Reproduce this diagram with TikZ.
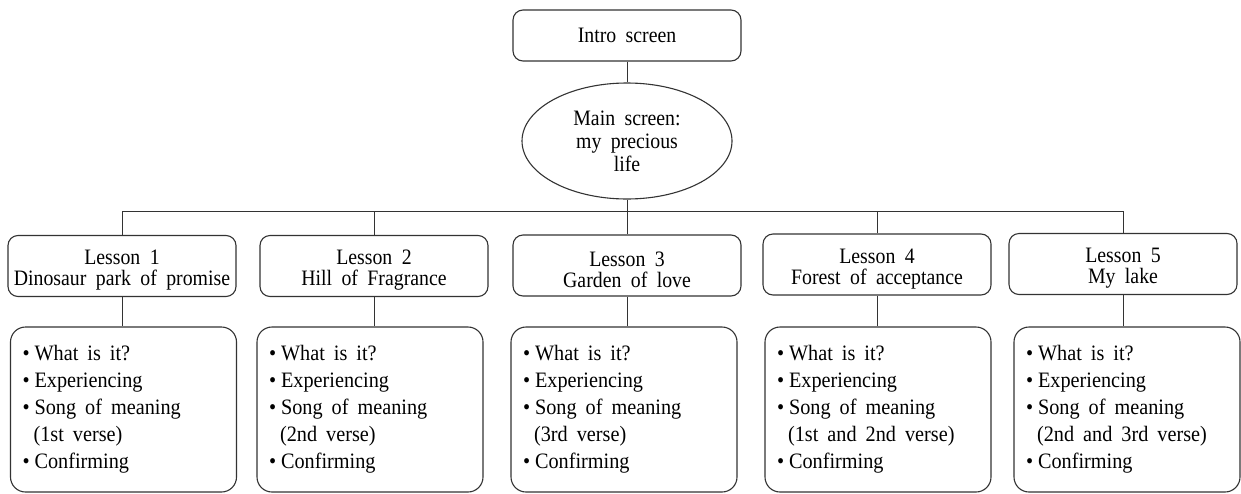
\documentclass[tikz,border=0pt]{standalone}
\usepackage{fontspec}
\setmainfont{Liberation Serif}[FakeStretch=0.9,WordSpace=1.9]
\newfontfamily\listfont{Liberation Serif}[FakeStretch=0.92]
\usetikzlibrary{shapes.geometric}
\newcommand{\itm}{\textbullet\hspace{5pt}}
\newcommand{\cnt}{\hphantom{\textbullet}\hspace{4pt}}
\newcommand{\lsn}{\rule{0pt}{23pt}}
\newcommand{\widesp}{\spaceskip=9pt plus 1pt\relax}
\begin{document}
\begin{tikzpicture}[x=1pt,y=-1pt,
  every node/.style={inner sep=0pt},
  line/.style={draw=black!80,line width=1pt},
  topbox/.style={draw=black!80,line width=1.1pt,rounded corners=10pt,minimum width=228pt,minimum height=51pt,align=center,font=\fontsize{22}{22.5}\selectfont},
  oval/.style={draw=black!80,line width=1.1pt,ellipse,minimum width=210pt,minimum height=116pt,align=center,font=\fontsize{22}{23}\selectfont},
  lessonbox/.style={draw=black!80,line width=1.1pt,rounded corners=10pt,minimum width=228pt,minimum height=61pt,align=center,font=\fontsize{22}{21}\selectfont},
  listbox/.style={draw=black!80,line width=1.1pt,rounded corners=15pt,minimum width=226pt,minimum height=165pt,text width=202pt,align=left,font=\listfont\fontsize{22}{27}\selectfont,execute at begin node={\widesp}}]
\useasboundingbox (0,0) rectangle (1241,493);
\node[topbox] (intro) at (627,35.5) {Intro screen};
\node[oval] (main) at (627,141) {Main screen:\\my precious\\life};
\coordinate (bus) at (627,211);
\node[lessonbox] (L1) at (122,266) {\lsn Lesson 1\\Dinosaur park of promise};
\node[lessonbox] (L2) at (374,266) {\lsn Lesson 2\\Hill of Fragrance};
\node[lessonbox] (L3) at (627,265.5) {\lsn Lesson 3\\Garden of love};
\node[lessonbox] (L4) at (877,264.5) {\lsn Lesson 4\\Forest of acceptance};
\node[lessonbox] (L5) at (1123,264) {\lsn Lesson 5\\My lake};
\node[listbox] (B1) at (123.5,409.5) {\itm What is it?\\\itm Experiencing\\\itm Song of meaning\\\cnt(1st verse)\\\itm Confirming};
\node[listbox] (B2) at (370,409.5) {\itm What is it?\\\itm Experiencing\\\itm Song of meaning\\\cnt(2nd verse)\\\itm Confirming};
\node[listbox] (B3) at (624,409.5) {\itm What is it?\\\itm Experiencing\\\itm Song of meaning\\\cnt(3rd verse)\\\itm Confirming};
\node[listbox] (B4) at (878,409.5) {\itm What is it?\\\itm Experiencing\\\itm Song of meaning\\\cnt(1st and 2nd verse)\\\itm Confirming};
\node[listbox] (B5) at (1127,409.5) {\itm What is it?\\\itm Experiencing\\\itm Song of meaning\\\cnt(2nd and 3rd verse)\\\itm Confirming};
\draw[line] (intro.south) -- (main.north);
\draw[line] (main.south) -- (bus);
\draw[line] (L1.north |- bus) -- (L5.north |- bus);
\foreach \k in {1,...,5}{
  \draw[line] (L\k.north) -- (L\k.north |- bus);
  \draw[line] (L\k.south) -- (L\k.south |- B\k.north);
}
\end{tikzpicture}
\end{document}
